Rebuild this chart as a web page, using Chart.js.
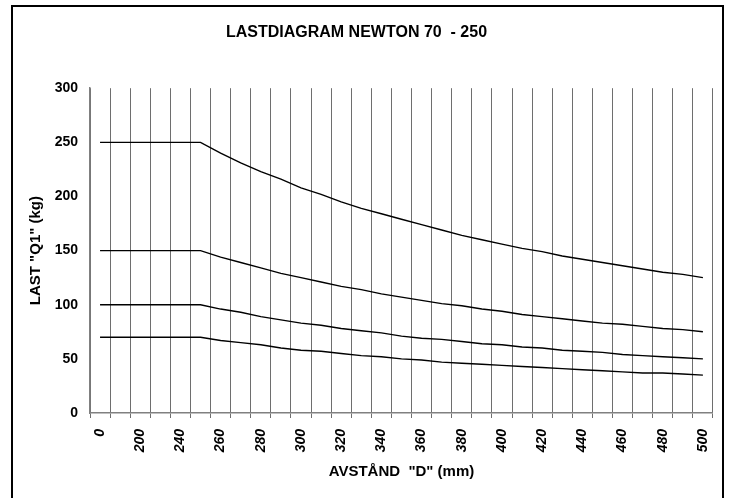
<!DOCTYPE html>
<html>
<head>
<meta charset="utf-8">
<script src="https://cdn.jsdelivr.net/npm/chart.js@4"></script>
<style>
  body { margin: 0; background: #fff; overflow: hidden; }
  #frame {
    position: absolute; left: 11px; top: 5px;
    width: 709px; height: 600px;
    border: 2px solid #000;
  }
  #chart { position: absolute; left: 0; top: 0; }
</style>
</head>
<body>
<div id="frame"></div>
<canvas id="chart" width="731" height="498"></canvas>
<script>
// Lastdiagram Newton 70 - 250

// distance D (mm), Excel shows every 2nd label
const distances = ['0', '100', '200', '220', '240', '250', '260', '270', '280', '290',
  '300', '310', '320', '330', '340', '350', '360', '370', '380', '390',
  '400', '410', '420', '430', '440', '450', '460', '470', '480', '490', '500'];

// load Q1 (kg) per model
const load250 = [250, 250, 250, 250, 250, 250, 240, 231, 223, 216, 208, 202, 195, 189, 184, 179,
  174, 169, 164, 160, 156, 152, 149, 145, 142, 139, 136, 133, 130, 128, 125];
const load150 = [150, 150, 150, 150, 150, 150, 144, 139, 134, 129, 125, 121, 117, 114, 110, 107,
  104, 101, 99, 96, 94, 91, 89, 87, 85, 83, 82, 80, 78, 77, 75];
const load100 = [100, 100, 100, 100, 100, 100, 96, 93, 89, 86, 83, 81, 78, 76, 74, 71,
  69, 68, 66, 64, 63, 61, 60, 58, 57, 56, 54, 53, 52, 51, 50];
const load70 = [70, 70, 70, 70, 70, 70, 67, 65, 63, 60, 58, 57, 55, 53, 52, 50,
  49, 47, 46, 45, 44, 43, 42, 41, 40, 39, 38, 37, 37, 36, 35];

const yTicks = [0, 50, 100, 150, 200, 250, 300];

const FONT = 'Liberation Sans, Arial, sans-serif';

function lineSet(label, data) {
  return {
    label: label,
    data: data,
    borderColor: '#000',
    borderWidth: 1.4,
    pointRadius: 0,
    tension: 0,
    fill: false,
  };
}

const ctx = document.getElementById('chart').getContext('2d');
new Chart(ctx, {
  type: 'line',
  data: {
    labels: distances,
    datasets: [
      lineSet('250', load250),
      lineSet('150', load150),
      lineSet('100', load100),
      lineSet('70', load70),
    ],
  },
  options: {
    responsive: false,
    animation: false,
    layout: { padding: { left: 0, right: 18, top: 0, bottom: 0 } },
    plugins: {
      legend: { display: false },
      tooltip: { enabled: false },
      title: {
        display: true,
        text: 'LASTDIAGRAM NEWTON 70  - 250',
        color: '#000',
        font: { family: FONT, size: 16, weight: 'bold' },
        padding: { top: 23, bottom: 46 },
      },
    },
    scales: {
      x: {
        offset: true,
        grid: {
          display: true,
          offset: true,
          color: '#6e6e6e',
          lineWidth: 1,
          drawTicks: true,
          tickLength: 5,
        },
        border: { display: true, color: '#808080', width: 1.5 },
        ticks: {
          autoSkip: false,
          maxRotation: 90,
          minRotation: 90,
          padding: 11,
          color: '#000',
          font: { family: FONT, size: 14, weight: 'bold', style: 'italic' },
          callback: (val, i) => (i % 2 === 0 ? distances[i] : ''),
        },
        title: {
          display: true,
          text: 'AVSTÅND  "D" (mm)',
          color: '#000',
          font: { family: FONT, size: 15, weight: 'bold' },
          padding: { top: 0, bottom: 17 },
        },
        afterFit: (scale) => { scale.height = 85; },
      },
      y: {
        min: 0,
        max: 300,
        grid: { display: false, drawTicks: false },
        border: { display: true, color: '#808080', width: 1.5 },
        afterBuildTicks: (scale) => { scale.ticks = yTicks.map((v) => ({ value: v })); },
        ticks: {
          padding: 12,
          color: '#000',
          font: { family: FONT, size: 14, weight: 'bold' },
        },
        title: {
          display: true,
          text: 'LAST "Q1" (kg)',
          color: '#000',
          font: { family: FONT, size: 15, weight: 'bold' },
          padding: { top: 27, bottom: 0 },
        },
        afterFit: (scale) => { scale.width = 90; },
      },
    },
  },
});
</script>
</body>
</html>
